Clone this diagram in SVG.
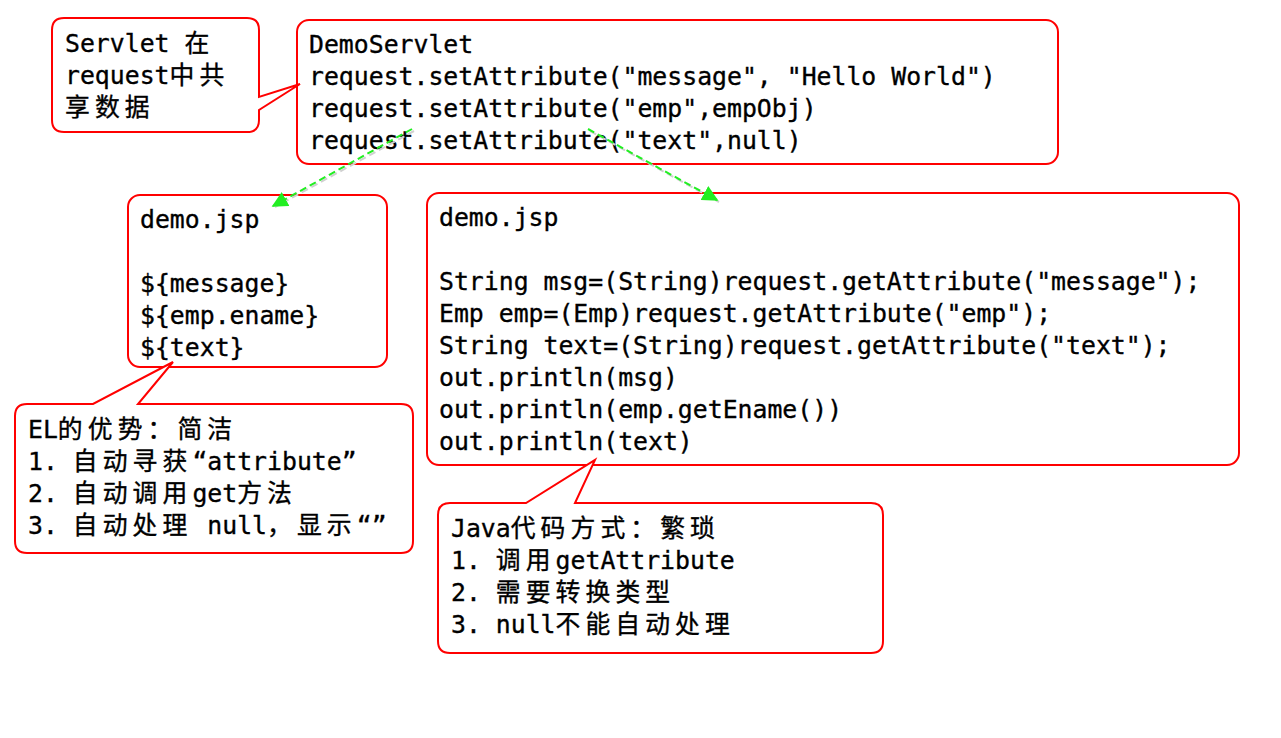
<svg xmlns="http://www.w3.org/2000/svg" width="1281" height="738" viewBox="0 0 1281 738">
<style>
.box{fill:#fff;stroke:#ff0000;stroke-width:2}
.t{font-family:"DejaVu Sans Mono","Noto Sans CJK SC",monospace;font-size:24.8px;fill:#000;stroke:#000;stroke-width:0.35px}
.c{font-family:"Noto Sans CJK SC",sans-serif;letter-spacing:5.1px}
.arr{stroke:#22ee22;stroke-width:2;stroke-dasharray:7 4;fill:none}
</style>
<defs>
<marker id="ah" viewBox="0 0 10 10" refX="9" refY="5" markerWidth="8" markerHeight="8" orient="auto" markerUnits="strokeWidth">
<path d="M0,0 L10,5 L0,10 Z" fill="#22ee22"/>
</marker>
</defs>
<rect width="1281" height="738" fill="#fff"/>

<g id="demoservlet">
<rect class="box" x="297" y="20" width="761" height="144" rx="12"/>
<text class="t" x="309" y="53">DemoServlet</text>
<text class="t" x="309" y="85">request.setAttribute("message", "Hello World")</text>
<text class="t" x="309" y="117">request.setAttribute("emp",empObj)</text>
<text class="t" x="309" y="149">request.setAttribute("text",null)</text>
</g>

<g id="servlet-note">
<path class="box" d="M64,18 H247 Q259,18 259,30 V97 L300,84 L259,110 V120 Q259,132 247,132 H64 Q52,132 52,120 V30 Q52,18 64,18 Z"/>
<text class="t" x="65" y="52">Servlet <tspan class="c">在</tspan></text>
<text class="t" x="65" y="84">request<tspan class="c">中共</tspan></text>
<text class="t" x="65" y="116"><tspan class="c">享数据</tspan></text>
</g>

<g id="demo-jsp-el">
<rect class="box" x="128" y="195" width="259" height="172" rx="12"/>
<text class="t" x="140" y="228">demo.jsp</text>
<text class="t" x="140" y="292">${message}</text>
<text class="t" x="140" y="324">${emp.ename}</text>
<text class="t" x="140" y="356">${text}</text>
</g>

<g id="el-note">
<path class="box" d="M27,404 H93 L173,362 L138,404 H401 Q413,404 413,416 V541 Q413,553 401,553 H27 Q15,553 15,541 V416 Q15,404 27,404 Z"/>
<text class="t" x="28" y="438">EL<tspan class="c">的优势：简洁</tspan></text>
<text class="t" x="28" y="470">1. <tspan class="c">自动寻获</tspan>“attribute”</text>
<text class="t" x="28" y="502">2. <tspan class="c">自动调用</tspan>get<tspan class="c">方法</tspan></text>
<text class="t" x="28" y="534">3. <tspan class="c">自动处理</tspan> null<tspan class="c">，显示</tspan>“”</text>
</g>

<g id="demo-jsp-java">
<rect class="box" x="427" y="193" width="812" height="272" rx="12"/>
<text class="t" x="439" y="226">demo.jsp</text>
<text class="t" x="439" y="290">String msg=(String)request.getAttribute("message");</text>
<text class="t" x="439" y="322">Emp emp=(Emp)request.getAttribute("emp");</text>
<text class="t" x="439" y="354">String text=(String)request.getAttribute("text");</text>
<text class="t" x="439" y="386">out.println(msg)</text>
<text class="t" x="439" y="418">out.println(emp.getEname())</text>
<text class="t" x="439" y="450">out.println(text)</text>
</g>

<g id="java-note">
<path class="box" d="M450,503 H526 L595,460 L575,503 H871 Q883,503 883,515 V641 Q883,653 871,653 H450 Q438,653 438,641 V515 Q438,503 450,503 Z"/>
<text class="t" x="451" y="537">Java<tspan class="c">代码方式：繁琐</tspan></text>
<text class="t" x="451" y="569">1. <tspan class="c">调用</tspan>getAttribute</text>
<text class="t" x="451" y="601">2. <tspan class="c">需要转换类型</tspan></text>
<text class="t" x="451" y="633">3. null<tspan class="c">不能自动处理</tspan></text>
</g>

<g id="connectors">
<line x1="414" y1="131" x2="275" y2="207" stroke="#d0d0d0" stroke-width="2" stroke-dasharray="7 4"/>
<line x1="590" y1="131" x2="719" y2="202" stroke="#d0d0d0" stroke-width="2" stroke-dasharray="7 4"/>
<line class="arr" x1="412" y1="129" x2="273" y2="206" marker-end="url(#ah)"/>
<line class="arr" x1="588" y1="129" x2="717" y2="200" marker-end="url(#ah)"/>
</g>
</svg>
